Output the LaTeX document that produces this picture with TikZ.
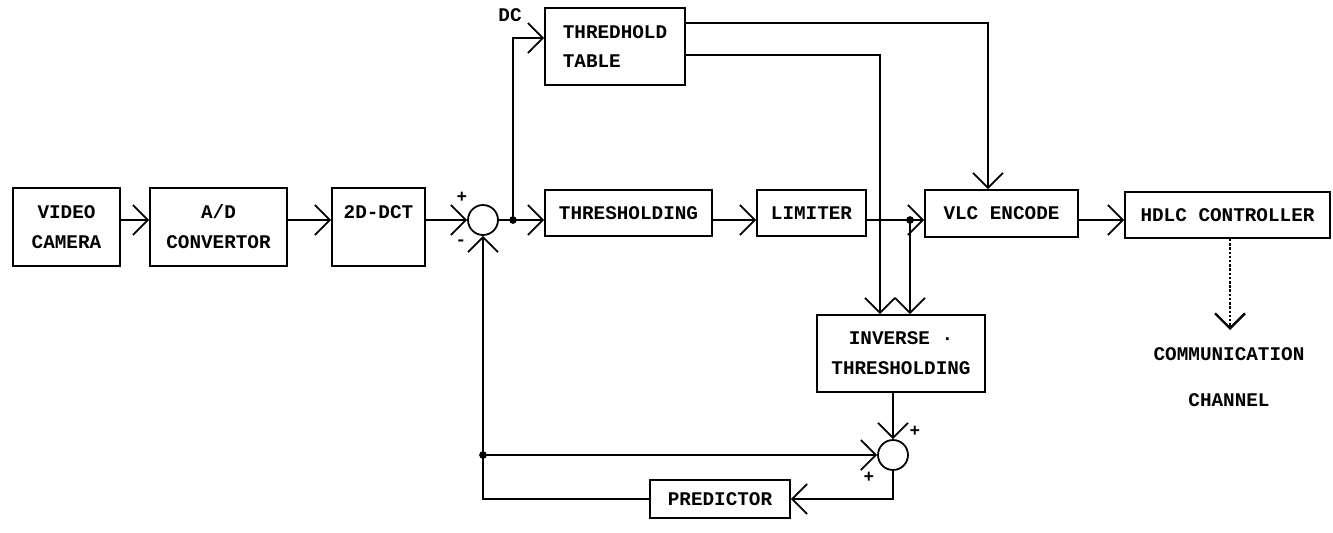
\documentclass[tikz,border=0pt]{standalone}
\usepackage{fontspec}
\setmonofont{Liberation Mono}
\usetikzlibrary{arrows.meta}

\begin{document}
\begin{tikzpicture}[x=0.02cm, y=-0.02cm, line width=1pt,
    >={Straight Barb[length=0.3cm, width=0.6cm]},
    font=\ttfamily\bfseries\fontsize{11}{17}\selectfont,
    block/.style={draw, align=center, inner sep=0pt},
    sumnode/.style={draw, circle, minimum size=0.6cm, inner sep=0pt},
    sign/.style={font=\ttfamily\bfseries\fontsize{10}{10}\selectfont, inner sep=0pt}]
    \def\mainY{220}

    % Frame
    \useasboundingbox (0,0) rectangle (1333,532);

    % Blocks on the main path
    \node[block, minimum width=2.14cm, minimum height=1.56cm] (cam) at (66.5,227) {VIDEO\\CAMERA};
    \node[block, minimum width=2.74cm, minimum height=1.56cm] (adc) at (218.5,227) {A/D\\CONVERTOR};
    \node[block, minimum width=1.86cm, minimum height=1.56cm] (dct) at (378.5,227) {2D-DCT\\\mbox{}};
    \node[sumnode] (sum1) at (483,\mainY) {};
    \node[block, minimum width=3.34cm, minimum height=0.92cm] (thr) at (628.5,213) {THRESHOLDING};
    \node[block, minimum width=2.18cm, minimum height=0.92cm] (lim) at (811.5,213) {LIMITER};
    \node[block, minimum width=3.06cm, minimum height=0.94cm] (vlc) at (1001.5,213.5) {VLC ENCODE};
    \node[block, minimum width=4.10cm, minimum height=0.92cm] (hdlc) at (1227.5,215) {HDLC CONTROLLER};

    % Table, inverse and predictor
    \node[block, align=left, minimum width=2.80cm, minimum height=1.54cm] (table) at (615,46.5) {THREDHOLD\\TABLE};
    \node[block, minimum width=3.36cm, minimum height=1.54cm] (inv) at (901,353.5) {INVERSE ·\\THRESHOLDING};
    \node[sumnode] (sum2) at (893,455) {};
    \node[block, minimum width=2.80cm, minimum height=0.76cm] (pred) at (720,499) {PREDICTOR};

    % Labels
    \node (dc) at (510,15) {DC};
    \node[align=center] (chan) at (1229,377) {COMMUNICATION\\[9pt]CHANNEL};
    \node[sign] (p1) at (462,197) {+};
    \node[sign] (m1) at (461,243) {-};
    \node[sign] (p2) at (915,431) {+};
    \node[sign] (p3) at (869,477) {+};

    % Branch points
    \coordinate (dot1) at (513,\mainY);
    \coordinate (dot2) at (910,\mainY);
    \coordinate (dot3) at (483,455);
    \coordinate (chanTop) at (1230,330);

    % Main path
    \draw[->] (cam.east |- dot1) -- (adc.west |- dot1);
    \draw[->] (adc.east |- dot1) -- (dct.west |- dot1);
    \draw[->] (dct.east |- dot1) -- (sum1);
    \draw (sum1) -- (dot1);
    \draw[->] (dot1) -- (dot1 -| thr.west);
    \draw[->] (thr.east |- dot1) -- (lim.west |- dot1);
    \draw (lim.east |- dot1) -- (dot2);
    \draw[->] (dot2) -- (dot2 -| vlc.west);
    \draw[->] (vlc.east |- dot1) -- (hdlc.west |- dot1);
    \draw[->, line width=1.4pt, densely dotted] (hdlc.south -| chanTop) -- (chanTop);

    % Threshold table
    \draw[->] (dot1) |- (table.west |- 0,38);
    \draw[->] (table.east |- 0,23) -| (988,0 |- vlc.north);
    \draw[->] (table.east |- 0,55) -| (880,0 |- inv.north);

    % Prediction loop
    \draw[->] (dot2) -- (dot2 |- inv.north);
    \draw[->] (sum2 |- inv.south) -- (sum2);
    \draw[->] (sum2) |- (pred);
    \draw[->] (pred) -| (sum1);
    \draw[->] (dot3) -- (sum2);

    \fill (dot1) circle (2.2pt);
    \fill (dot2) circle (2.2pt);
    \fill (dot3) circle (2.2pt);

\end{tikzpicture}
\end{document}
